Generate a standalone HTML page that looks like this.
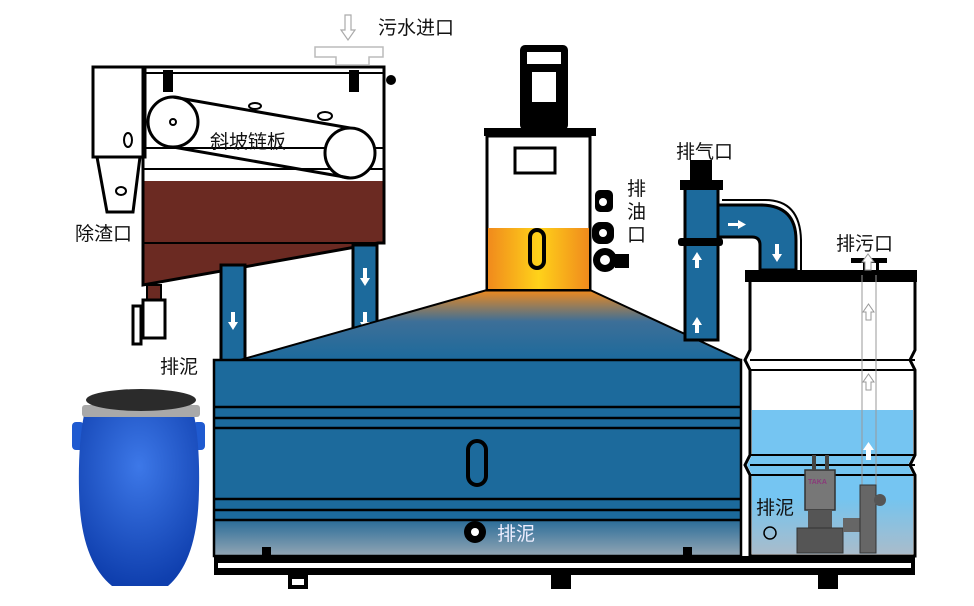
<!DOCTYPE html>
<html><head><meta charset="utf-8"><style>
html,body{margin:0;padding:0;background:#fff;}
svg{display:block}
text{font-family:"Liberation Sans","Noto Sans CJK SC",sans-serif;}
</style></head><body>
<svg width="974" height="606" viewBox="0 0 974 606" xmlns="http://www.w3.org/2000/svg">
<defs>
<linearGradient id="cone" x1="0" y1="0" x2="0" y2="1">
<stop offset="0" stop-color="#f08a1c"/><stop offset="0.45" stop-color="#3d6f98"/><stop offset="1" stop-color="#1c6a9c"/></linearGradient>
<linearGradient id="oil" x1="0" y1="0" x2="1" y2="0">
<stop offset="0" stop-color="#f08a1c"/><stop offset="0.5" stop-color="#ffd21a"/><stop offset="1" stop-color="#f08a1c"/></linearGradient>
<linearGradient id="bot" x1="0" y1="0" x2="0" y2="1">
<stop offset="0" stop-color="#2a6c98"/><stop offset="1" stop-color="#93a6b4"/></linearGradient>
<linearGradient id="rbot" x1="0" y1="0" x2="0" y2="1">
<stop offset="0" stop-color="#76c4ee"/><stop offset="1" stop-color="#a9bccb"/></linearGradient>
<radialGradient id="barrel" cx="0.5" cy="0.3" r="0.7">
<stop offset="0" stop-color="#3d78e8"/><stop offset="1" stop-color="#0f3fae"/></radialGradient>
</defs>

<!-- Barrel -->
<rect x="72" y="422" width="12" height="28" rx="4" fill="#1f5ad0"/>
<rect x="193" y="422" width="12" height="28" rx="4" fill="#1f5ad0"/>
<path d="M84 415 Q78 445 79 490 Q80 560 112 586 L168 586 Q198 560 199 490 Q200 445 194 415 Z" fill="url(#barrel)"/>
<rect x="82" y="405" width="118" height="12" rx="3" fill="#a9a9a9"/>
<ellipse cx="141" cy="400" rx="55" ry="11" fill="#2b2b2b"/>

<!-- Screen box -->
<rect x="93" y="67" width="52" height="90" fill="#fff" stroke="#000" stroke-width="3"/>
<path d="M97 157 L140 157 L133 212 L107 212 Z" fill="#fff" stroke="#000" stroke-width="3"/>
<path d="M143 181 L384 181 L384 243 L378 243 L143 285 Z" fill="#6b2a22"/>
<line x1="143" y1="243" x2="384" y2="243" stroke="#000" stroke-width="2"/>
<path d="M143 67 L384 67 L384 243 L378 243 L143 285 Z" fill="none" stroke="#000" stroke-width="3"/>
<line x1="143" y1="73" x2="384" y2="73" stroke="#000" stroke-width="2"/>
<line x1="143" y1="148" x2="384" y2="148" stroke="#000" stroke-width="2"/>
<line x1="143" y1="169" x2="384" y2="169" stroke="#000" stroke-width="2"/>
<rect x="163" y="70" width="10" height="22" fill="#000"/>
<rect x="349" y="70" width="10" height="22" fill="#000"/>
<circle cx="391" cy="80" r="5" fill="#000"/>
<circle cx="173" cy="122" r="25" fill="#fff" stroke="#000" stroke-width="3"/>
<circle cx="173" cy="122" r="3" fill="none" stroke="#000" stroke-width="2"/>
<circle cx="350" cy="153" r="25" fill="#fff" stroke="#000" stroke-width="3"/>
<line x1="173" y1="97" x2="350" y2="128" stroke="#000" stroke-width="3"/>
<line x1="173" y1="147" x2="350" y2="178" stroke="#000" stroke-width="3"/>
<ellipse cx="255" cy="106" rx="6" ry="3" fill="none" stroke="#000" stroke-width="2"/>
<ellipse cx="325" cy="116" rx="7" ry="4" fill="none" stroke="#000" stroke-width="2"/>
<ellipse cx="128" cy="140" rx="4" ry="7" fill="none" stroke="#000" stroke-width="2"/>
<ellipse cx="121" cy="191" rx="5" ry="4" fill="none" stroke="#000" stroke-width="2"/>
<text x="210" y="148" font-size="19" fill="#111">斜坡链板</text>
<!-- inlet -->
<path d="M315 47 L383 47 L383 57 L369 57 L369 65 L336 65 L336 57 L315 57 Z" fill="#fff" stroke="#bbb" stroke-width="1.5"/>
<path d="M345 15 L351 15 L351 30 L355 30 L348 40 L341 30 L345 30 Z" fill="#fff" stroke="#aaa" stroke-width="1.2"/>
<text x="378" y="34" font-size="19" fill="#111">污水进口</text>
<text x="75" y="240" font-size="19" fill="#111">除渣口</text>
<!-- valve -->
<rect x="147" y="285" width="14" height="15" fill="#6b2a22" stroke="#000" stroke-width="2"/>
<rect x="143" y="300" width="22" height="38" fill="#fff" stroke="#000" stroke-width="3"/>
<rect x="133" y="306" width="8" height="38" fill="#fff" stroke="#000" stroke-width="3"/>
<text x="160" y="373" font-size="19" fill="#111">排泥</text>

<!-- legs -->
<rect x="221" y="265" width="24" height="97" fill="#1c6a9c" stroke="#000" stroke-width="3"/>
<rect x="353" y="245" width="24" height="117" fill="#1c6a9c" stroke="#000" stroke-width="3"/>
<g fill="#fff"><path d="M231 312h4v10h3l-5 8-5-8h3z"/><path d="M363 268h4v10h3l-5 8-5-8h3z"/><path d="M363 312h4v10h3l-5 8-5-8h3z"/></g>

<!-- cone -->
<path d="M240 360 L487 290 L590 290 L741 360 Z" fill="url(#cone)" stroke="#000" stroke-width="2"/>

<!-- main tank -->
<rect x="214" y="360" width="527" height="196" fill="#1c6a9c"/>
<rect x="214" y="520" width="527" height="36" fill="url(#bot)"/>
<g stroke="#000" stroke-width="2.5" fill="none">
<rect x="214" y="360" width="527" height="196"/>
<line x1="214" y1="407" x2="741" y2="407"/><line x1="214" y1="418" x2="741" y2="418"/><line x1="214" y1="428" x2="741" y2="428"/>
<line x1="214" y1="499" x2="741" y2="499"/><line x1="214" y1="510" x2="741" y2="510"/><line x1="214" y1="520" x2="741" y2="520"/>
</g>
<rect x="468" y="441" width="18" height="44" rx="9" fill="none" stroke="#000" stroke-width="4"/>
<circle cx="475" cy="532" r="11" fill="#000"/><circle cx="475" cy="532" r="4" fill="#fff"/>
<text x="497" y="540" font-size="19" fill="#eef">排泥</text>
<rect x="262" y="547" width="9" height="9" fill="#000"/>
<rect x="683" y="547" width="9" height="9" fill="#000"/>

<!-- base -->
<rect x="214" y="556" width="701" height="19" fill="#000"/>
<rect x="218" y="563" width="693" height="5" fill="#fff"/>
<rect x="288" y="575" width="20" height="14" fill="#000"/><rect x="292" y="579" width="12" height="6" fill="#fff"/>
<rect x="551" y="575" width="20" height="14" fill="#000"/>
<rect x="818" y="575" width="20" height="14" fill="#000"/>

<!-- oil tower -->
<rect x="520" y="45" width="48" height="85" rx="5" fill="#000"/>
<rect x="527" y="52" width="34" height="12" fill="#fff"/>
<rect x="532" y="72" width="24" height="30" fill="#fff"/>
<rect x="484" y="128" width="112" height="8" fill="#000"/>
<rect x="487" y="136" width="103" height="154" fill="#fff" stroke="#000" stroke-width="3"/>
<rect x="488" y="228" width="101" height="61" fill="url(#oil)"/>
<rect x="515" y="148" width="40" height="25" fill="#fff" stroke="#000" stroke-width="3"/>
<rect x="530" y="230" width="14" height="38" rx="7" fill="none" stroke="#000" stroke-width="4"/>
<rect x="595" y="190" width="18" height="22" rx="5" fill="#000"/><rect x="592" y="222" width="22" height="22" rx="8" fill="#000"/><circle cx="605" cy="260" r="12" fill="#000"/>
<circle cx="603" cy="202" r="4" fill="#fff"/><circle cx="603" cy="233" r="4" fill="#fff"/><circle cx="605" cy="260" r="5" fill="#fff"/>
<rect x="615" y="254" width="14" height="14" fill="#000"/>
<text font-size="19" fill="#111"><tspan x="627" y="195">排</tspan><tspan x="627" y="218">油</tspan><tspan x="627" y="241">口</tspan></text>

<!-- vent pipe -->
<path d="M718 205 L760 205 Q796 205 796 240 L796 270 L760 270 L760 245 Q760 237 752 237 L718 237 Z" fill="#1c6a9c" stroke="#000" stroke-width="3"/>
<path d="M722 200 L765 200 Q800 200 801 240 L801 270" fill="none" stroke="#000" stroke-width="2"/>
<rect x="685" y="185" width="33" height="155" fill="#1c6a9c" stroke="#000" stroke-width="3"/>
<rect x="680" y="180" width="43" height="10" fill="#000"/><rect x="690" y="160" width="22" height="22" fill="#000"/>
<rect x="678" y="238" width="45" height="8" rx="3" fill="#000"/>
<g fill="#fff"><path d="M695 268h4v-8h3l-5-8-5 8h3z"/><path d="M695 333h4v-8h3l-5-8-5 8h3z"/><path d="M728 226v-3h10v-3l8 4.5-8 4.5v-3z"/><path d="M775 244h4v10h3l-5 8-5-8h3z"/></g>
<text x="676" y="158" font-size="19" fill="#111">排气口</text>

<!-- right tank -->
<path d="M750 280 L915 280 L915 350 L910 360 L915 370 L915 455 L910 465 L915 475 L915 556 L750 556 L750 475 L745 465 L750 455 L750 370 L745 360 L750 350 Z" fill="#fff" stroke="#000" stroke-width="3"/>
<path d="M752 410 L913 410 L913 455 L908 465 L913 475 L913 554 L752 554 L752 475 L747 465 L752 455 Z" fill="#75c5f2"/>
<rect x="752" y="500" width="161" height="54" fill="url(#rbot)"/>
<g stroke="#000" stroke-width="2"><line x1="750" y1="360" x2="915" y2="360"/><line x1="750" y1="370" x2="915" y2="370"/><line x1="750" y1="455" x2="915" y2="455"/><line x1="750" y1="465" x2="915" y2="465"/><line x1="750" y1="475" x2="915" y2="475"/></g>
<rect x="745" y="270" width="172" height="12" fill="#000"/>
<rect x="851" y="258" width="36" height="5" fill="#000"/>
<rect x="863" y="262" width="3" height="10" fill="#000"/><rect x="876" y="262" width="3" height="10" fill="#000"/>
<line x1="862" y1="275" x2="862" y2="490" stroke="#999" stroke-width="1"/><line x1="876" y1="275" x2="876" y2="490" stroke="#999" stroke-width="1"/>
<g fill="#fff" stroke="#999" stroke-width="1"><path d="M866 320h5v-8h3l-5.5-8-5.5 8h3z"/><path d="M866 390h5v-8h3l-5.5-8-5.5 8h3z"/></g>
<path d="M866 460h5v-10h3l-5.5-8-5.5 8h3z" fill="#fff"/>
<path d="M865 270h6v-8h3l-6-8-6 8h3z" fill="#fff" stroke="#999" stroke-width="1"/>
<text x="836" y="250" font-size="19" fill="#111">排污口</text>
<!-- pump -->
<rect x="805" y="470" width="30" height="40" fill="#777" stroke="#333" stroke-width="1.5"/>
<rect x="812" y="455" width="4" height="15" fill="#444"/><rect x="825" y="455" width="4" height="15" fill="#444"/>
<text x="808" y="484" font-size="7" fill="#8a3a7a" font-weight="bold">TAKA</text>
<rect x="808" y="510" width="24" height="18" fill="#555"/>
<rect x="797" y="528" width="46" height="25" fill="#555" stroke="#333"/>
<rect x="843" y="518" width="20" height="14" fill="#666"/>
<rect x="860" y="485" width="16" height="68" fill="#666" stroke="#333"/>
<circle cx="880" cy="500" r="6" fill="#555"/>
<text x="756" y="514" font-size="19" fill="#111">排泥</text>
<circle cx="770" cy="533" r="6" fill="none" stroke="#000" stroke-width="1.5"/>
</svg>
</body></html>
